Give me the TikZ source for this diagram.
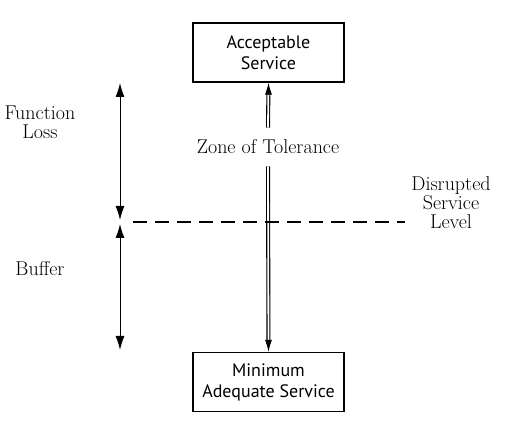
\documentclass[tikz,border=0pt]{standalone}
\usepackage{fontspec}
\newfontfamily\boxfont{PT Sans}
\usetikzlibrary{arrows.meta}
\tikzset{
	servicebox/.style={draw, line width=1.2pt, minimum width=151pt, minimum height=59pt, align=center, inner sep=2pt, font=\boxfont\fontsize{18}{21}\selectfont},
	label/.style={align=center, inner sep=1pt},
	>={Latex[length=14pt,width=9pt]},
	dbl/.style={double, line width=1.1pt, double distance=1.8pt, shorten >=8pt},
	dbltip/.style={-{Latex[length=12pt,width=7pt]}, line width=1pt},
}
\begin{document}
\begin{tikzpicture}[x=1pt, y=1pt, font=\fontsize{20}{19}\selectfont]
				\useasboundingbox (0,0) rectangle (509,435);
				%service levels
				\node[servicebox] (acc) at (268.5, 382.5) {Acceptable\\Service};
				\node[servicebox] (min) at (268.5, 53) {Minimum\\Adequate Service};
				\node[label, inner ysep=12pt] (zone) at (268, 288) {Zone of Tolerance};
				\draw[dbl] (zone.north) -- (acc.south);
				\draw[dbl] (zone.south) -- (min.north);
				\draw[dbltip] ([yshift=-12pt]acc.south) -- (acc.south);
				\draw[dbltip] ([yshift=12pt]min.north) -- (min.north);
				%disrupted level
				\coordinate (dl) at (133, 213);
				\coordinate (dr) at (405, 213);
				\draw[line width=1.2pt, dash pattern=on 14pt off 8pt] (dl) -- (dr);
				\node[label] (disr) at (451, 232) {Disrupted\\Service\\Level};
				%left scale
				\foreach \name/\y in {top/352, mid/213, bot/85} {
					\coordinate (\name) at (120, \y);
				}
				\draw[<->, line width=1pt] (top) -- ([yshift=2pt]mid);
				\draw[<->, line width=1pt] ([yshift=-2pt]mid) -- (bot);
				\node[label] (loss) at (40, 313) {Function\\Loss};
				\node[label] (buf) at (40, 166) {Buffer};
			\end{tikzpicture}
\end{document}
